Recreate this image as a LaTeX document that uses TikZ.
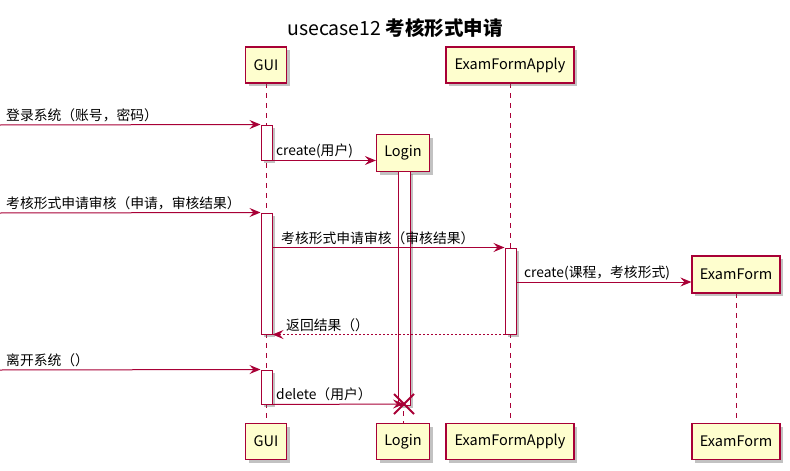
\documentclass[tikz,border=0pt]{standalone}
\usepackage{fontspec}
\setmainfont{Noto Sans CJK SC}
\usetikzlibrary{arrows.meta,shadows,calc}
\definecolor{pline}{HTML}{A80036}
\definecolor{pfill}{HTML}{FEFECE}
\tikzset{
  shd/.style={drop shadow={shadow xshift=3pt,shadow yshift=-3pt,fill=black!60,opacity=0.4}},
  part/.style={draw=pline,fill=pfill,line width=1.2pt,inner sep=0pt,minimum height=36pt,font=\fontsize{14.5}{17}\selectfont,shd},
  bar/.style={draw=pline,fill=white,line width=1pt,inner sep=0pt,minimum width=11pt,shd},
  life/.style={draw=pline,line width=0.8pt,dash pattern=on 5pt off 5pt},
  msg/.style={draw=pline,line width=1pt,-{Stealth[length=11pt,width=9pt,inset=4pt]}},
  ret/.style={msg,dash pattern=on 2pt off 2pt},
  lbl/.style={font=\fontsize{13.8}{16}\selectfont,inner sep=0pt,anchor=base west},
}
\begin{document}
\begin{tikzpicture}[x=1pt,y=-1pt]
\useasboundingbox (0,0) rectangle (790,471);
% title
\node (title) at (395,28) {\fontsize{19.5}{22}\selectfont usecase12 \bfseries 考核形式申请};
% lifelines
\coordinate (gT) at (266,83); \coordinate (gB) at (266,423);
\coordinate (lT) at (403,171); \coordinate (lB) at (403,423);
\coordinate (aT) at (510,83); \coordinate (aB) at (510,423);
\coordinate (eT) at (736,293); \coordinate (eB) at (736,423);
\draw[life] (gT) -- (gB);
\draw[life] (lT) -- (lB);
\draw[life] (aT) -- (aB);
\draw[life] (eT) -- (eB);
% participants
\node[part,minimum width=41pt] (gui) at (266,65) {GUI};
\node[part,minimum width=53pt,minimum height=37pt] (login) at (403,153) {Login};
\node[part,minimum width=128pt] (efa) at (510,65) {ExamFormApply};
\node[part,minimum width=88pt,minimum height=37pt] (ef) at (736,274.5) {ExamForm};
\node[part,minimum width=41pt] (gui2) at (266,441.5) {GUI};
\node[part,minimum width=53pt] (login2) at (403,441.5) {Login};
\node[part,minimum width=128pt] (efa2) at (510,441.5) {ExamFormApply};
\node[part,minimum width=88pt] (ef2) at (736,441.5) {ExamForm};
% activation bars
\node[bar,minimum width=12pt,minimum height=234pt] (lbar) at (404,288) {};
\node[bar,minimum height=35pt] (g1) at (266.5,142.5) {};
\node[bar,minimum height=121pt] (g2) at (266.5,273.5) {};
\node[bar,minimum height=86pt] (a1) at (510.5,291) {};
\node[bar,minimum height=34pt] (g3) at (266.5,387) {};
% messages
\coordinate (s1) at (0,125);
\draw[msg] (s1) -- (g1.north west);
\node[lbl] (m1) at (6,120) {登录系统（账号，密码）};
\draw[msg] (g1.south east) -- (g1.south east -| login.west);
\node[lbl] (m2) at (276,155) {create(用户)};
\coordinate (s3) at (0,213);
\draw[msg] (s3) -- (g2.north west);
\node[lbl] (m3) at (6,208) {考核形式申请审核（申请，审核结果）};
\draw[msg] (g2.east |- a1.north west) -- (a1.north west);
\node[lbl] (m4) at (281,243) {考核形式申请审核（审核结果）};
\draw[msg] (a1.east |- 0,282) -- (ef.west |- 0,282);
\node[lbl] (m5) at (524,277) {create(课程，考核形式)};
\draw[ret] (a1.south west) -- (g2.south east);
\node[lbl] (m6) at (286,330) {返回结果（）};
\coordinate (s7) at (0,370);
\draw[msg] (s7) -- (g3.north west);
\node[lbl] (m7) at (6,365) {离开系统（）};
\coordinate (x) at (404,404);
\draw[msg] (g3.south east) -- (x);
\node[lbl] (m8) at (276,399) {delete（用户）};
\draw[pline,line width=2pt] ($(x)+(-10,-10)$) -- ($(x)+(10,10)$) ($(x)+(-10,10)$) -- ($(x)+(10,-10)$);
\end{tikzpicture}
\end{document}
